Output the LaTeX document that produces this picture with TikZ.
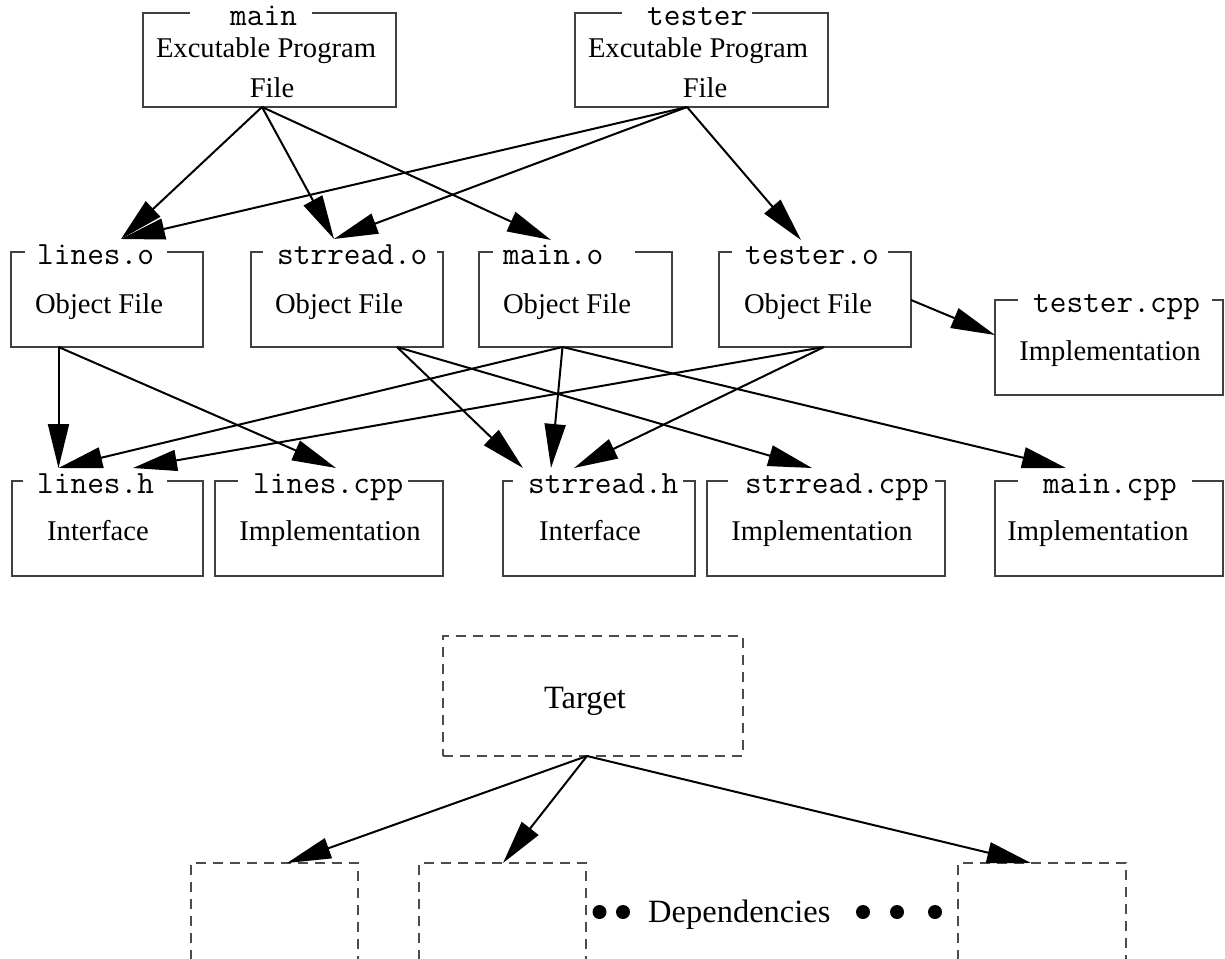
\documentclass[tikz,border=0pt]{standalone}
\usepackage{fontspec}
\setmainfont{Liberation Serif}
\usetikzlibrary{arrows.meta,fit}

\newcommand\filebox[9]{%
  \node[box, fit={(#2,#3) (#4,#5)}] (#1) {};
  \fill[white] (#6,#3-2.5) rectangle (#7,#3+2.5);
  \node[lbl] (#1-lbl) at (#8,#3+12.5) {#9};
}

\begin{document}
\begin{tikzpicture}[x=1pt,y=-1pt,
  box/.style={draw=black!75, line width=1.3pt, inner sep=0pt},
  lbl/.style={anchor=base west, inner sep=0pt, font=\fontsize{32.4}{34}\selectfont\ttfamily},
  body/.style={anchor=base, inner sep=0pt, font=\fontsize{28.6}{30}\selectfont},
  big/.style={anchor=base, inner sep=0pt, font=\fontsize{32.5}{34}\selectfont},
  depline/.style={draw=black!70, line width=1.3pt, dash pattern=on 10pt off 7pt},
  dot/.style={circle, fill=black, inner sep=0pt, minimum size=14pt},
  arr/.style={-{Triangle[length=44pt,width=21pt]}, line width=2pt, black},
]
\useasboundingbox (0,0) rectangle (1225,958);

% top row
\filebox{mainx}{143}{13}{396}{107}{190}{312}{230}{main}
\node[body] (mainx-t1) at (266,58) {Excutable Program};
\node[body] (mainx-t2) at (272,97) {File};
\filebox{testerx}{575}{13}{828}{107}{622}{752}{647}{tester}
\node[body] (testerx-t1) at (698,58) {Excutable Program};
\node[body] (testerx-t2) at (705,97) {File};

% object files
\filebox{lineso}{11}{252}{203}{347}{25}{167}{37}{lines.o}
\node[body] (lineso-t) at (99,313) {Object File};
\filebox{strreado}{251}{252}{443}{347}{263}{437}{277}{strread.o}
\node[body] (strreado-t) at (339,313) {Object File};
\filebox{maino}{479}{252}{672}{347}{493}{635}{503}{main.o}
\node[body] (maino-t) at (567,313) {Object File};
\filebox{testero}{719}{252}{911}{347}{732}{888}{745}{tester.o}
\node[body] (testero-t) at (808,313) {Object File};
\filebox{testercpp}{995}{300}{1223}{395}{1018}{1212}{1033}{tester.cpp}
\node[body] (testercpp-t) at (1110,360) {Implementation};

% sources
\filebox{linesh}{12}{481}{203}{576}{23}{167}{37}{lines.h}
\node[body] (linesh-t) at (98,540) {Interface};
\filebox{linescpp}{215}{481}{443}{576}{238}{408}{253}{lines.cpp}
\node[body] (linescpp-t) at (330,540) {Implementation};
\filebox{strreadh}{503}{481}{695}{576}{513}{683}{528}{strread.h}
\node[body] (strreadh-t) at (590,540) {Interface};
\filebox{strreadcpp}{707}{481}{945}{576}{728}{935}{745}{strread.cpp}
\node[body] (strreadcpp-t) at (822,540) {Implementation};
\filebox{maincpp}{995}{481}{1223}{576}{1018}{1192}{1043}{main.cpp}
\node[body] (maincpp-t) at (1098,540) {Implementation};

% connector end points
\coordinate (mainB) at (262,107);
\coordinate (testerB) at (687,107);
\coordinate (linesoT) at (121,239);
\coordinate (strreadoT) at (334,239);
\coordinate (mainoT) at (551,240);
\coordinate (testeroT) at (801,240);
\coordinate (linesoB) at (58.5,347);
\coordinate (strreadoB) at (397,347);
\coordinate (mainoB) at (562.5,347);
\coordinate (testeroB) at (824,347);
\coordinate (testeroR) at (911,300);
\coordinate (testercppL) at (995,335);
\coordinate (lineshT1) at (58.5,468);
\coordinate (lineshT2) at (133,468);
\coordinate (linescppT) at (336,468);
\coordinate (strreadhT1) at (523,468);
\coordinate (strreadhT2) at (551,468);
\coordinate (strreadhT3) at (574,468);
\coordinate (strreadcppT) at (812,468);
\coordinate (maincppT) at (1066,468);

% arrows
\draw[arr] (mainB) -- (linesoT);
\draw[arr] (mainB) -- (strreadoT);
\draw[arr] (mainB) -- (mainoT);
\draw[arr] (testerB) -- (linesoT);
\draw[arr] (testerB) -- (strreadoT);
\draw[arr] (testerB) -- (testeroT);
\draw[arr] (linesoB) -- (lineshT1);
\draw[arr] (linesoB) -- (linescppT);
\draw[arr] (strreadoB) -- (strreadhT1);
\draw[arr] (strreadoB) -- (strreadcppT);
\draw[arr] (mainoB) -- (lineshT1);
\draw[arr] (mainoB) -- (strreadhT2);
\draw[arr] (mainoB) -- (maincppT);
\draw[arr] (testeroB) -- (lineshT2);
\draw[arr] (testeroB) -- (strreadhT3);
\draw[arr] (testeroR) -- (testercppL);

% legend
\node[depline, inner sep=0pt, fit={(443,636) (743,756)}] (target) {};
\node[big] (target-t) at (585,708) {Target};
\draw[depline] (191,960) |- (358,863) -- (358,960);
\draw[depline] (419,960) |- (586,863) -- (586,960);
\draw[depline] (958,960) |- (1126,863) -- (1126,960);
\coordinate (targetB) at (587,756);
\coordinate (depAT) at (287,863);
\coordinate (depBT) at (503,863);
\coordinate (depCT) at (1031,863);
\draw[arr] (targetB) -- (depAT);
\draw[arr] (targetB) -- (depBT);
\draw[arr] (targetB) -- (depCT);
\node[dot] (dot1) at (599.5,912) {};
\node[dot] (dot2) at (623,912) {};
\node[big, anchor=base west] (deps) at (648,922) {Dependencies};
\node[dot] (dot3) at (863,912) {};
\node[dot] (dot4) at (897,912) {};
\node[dot] (dot5) at (935,912) {};
\end{tikzpicture}
\end{document}
